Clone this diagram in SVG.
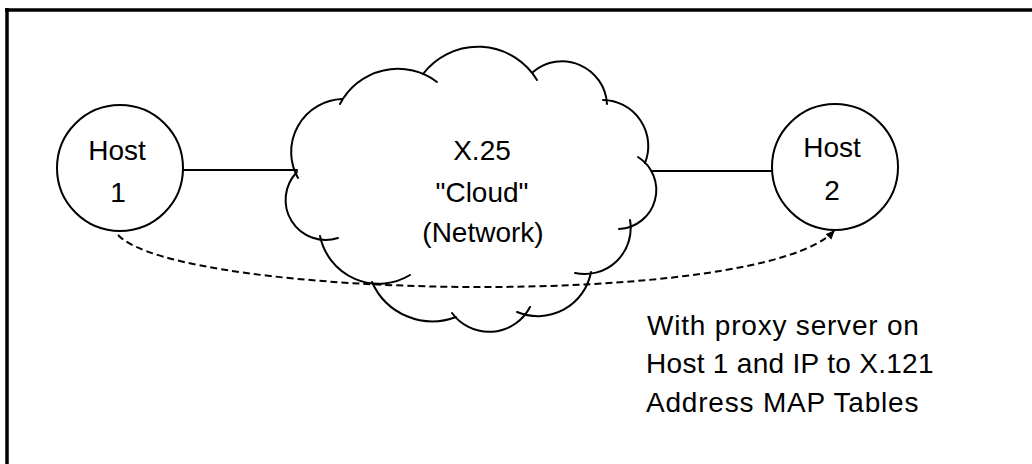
<svg xmlns="http://www.w3.org/2000/svg" width="1032" height="464" viewBox="0 0 1032 464">
  <style>
    .ln { fill: none; stroke: #000; stroke-width: 2; stroke-linecap: round; }
    .node { fill: #fff; stroke: #000; stroke-width: 2; }
    .t { font-family: "Liberation Sans", Arial, sans-serif; font-size: 28px; fill: #000; }
    .c { text-anchor: middle; }
    .note { letter-spacing: 0.8px; }
    .dash { fill: none; stroke: #000; stroke-width: 2; stroke-dasharray: 7 4; }
  </style>
  <defs>
    <marker id="arrow" markerWidth="10" markerHeight="10" refX="8" refY="4" orient="auto" markerUnits="userSpaceOnUse">
      <path d="M0,0 L9,4 L0,8 Z" fill="#000"/>
    </marker>
  </defs>
  <rect width="1032" height="464" fill="#fff"/>
  <g id="frame">
    <line x1="5" y1="10" x2="1032" y2="10" stroke="#000" stroke-width="3.5"/>
    <line x1="7" y1="8" x2="7" y2="464" stroke="#000" stroke-width="3.5"/>
  </g>
  <g id="connectors">
    <line class="ln" x1="183" y1="170" x2="297" y2="170"/>
    <line class="ln" x1="652" y1="171" x2="772" y2="171"/>
    <path class="dash" d="M118,235 C180,300 760,310 834,231" marker-end="url(#arrow)"/>
  </g>
  <g id="host1">
    <circle class="node" cx="120" cy="168" r="63"/>
    <text class="t c" x="117" y="160">Host</text>
    <text class="t c" x="118" y="202">1</text>
  </g>
  <g id="host2">
    <circle class="node" cx="835" cy="167" r="63"/>
    <text class="t c" x="832" y="157">Host</text>
    <text class="t c" x="832" y="200">2</text>
  </g>
  <g id="cloud">
    <path class="ln" d="M298,178 A53,53 0 0 1 342,99"/>
    <path class="ln" d="M340,104 A65,65 0 0 1 437,82"/>
    <path class="ln" d="M423,74 A69,69 0 0 1 537,80"/>
    <path class="ln" d="M533,72 A45,45 0 0 1 607,104"/>
    <path class="ln" d="M603,100 A46,46 0 0 1 645,163"/>
    <path class="ln" d="M638,157 A39,39 0 0 1 619,229"/>
    <path class="ln" d="M630,220 A46,46 0 0 1 575,273"/>
    <path class="ln" d="M591,272 A54,54 0 0 1 517,312"/>
    <path class="ln" d="M530,307 A46,46 0 0 1 452,313"/>
    <path class="ln" d="M456,317 A66,66 0 0 1 372,282"/>
    <path class="ln" d="M410,275 A60,60 0 0 1 320,236"/>
    <path class="ln" d="M338,238 A40,40 0 0 1 297,172"/>
    <text class="t c" x="482" y="160">X.25</text>
    <text class="t c" x="482" y="202">"Cloud"</text>
    <text class="t c" x="483" y="242">(Network)</text>
  </g>
  <g id="annotation">
    <text class="t note" x="647" y="335">With proxy server on</text>
    <text class="t note" x="646" y="373" style="letter-spacing:0.3px">Host 1 and IP to X.121</text>
    <text class="t note" x="646" y="412">Address MAP Tables</text>
  </g>
</svg>
